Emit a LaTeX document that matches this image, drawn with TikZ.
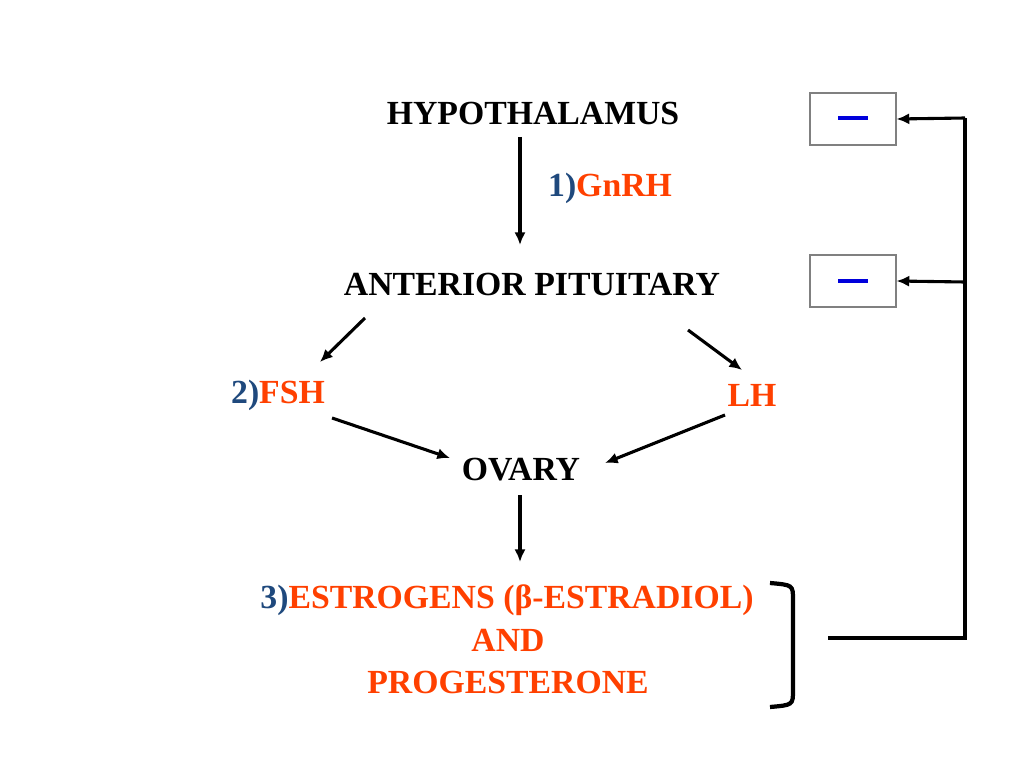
\documentclass[tikz,border=0pt]{standalone}
\usepackage{fontspec}
\setmainfont{Liberation Serif}
\usetikzlibrary{arrows.meta}
\definecolor{hred}{RGB}{255,64,0}
\definecolor{hblue}{RGB}{31,73,125}
\definecolor{mblue}{RGB}{0,0,220}
\begin{document}
\begin{tikzpicture}[x=0.025cm,y=-0.025cm,line width=2.2pt]
\tikzstyle{every node} = [font=\fontsize{24}{28}\selectfont\bfseries, inner sep=0pt]
\tikzstyle{arr} = [-{Latex[length=9pt,width=8pt]}]
\tikzstyle{minusbox} = [draw=gray, line width=0.8pt, minimum width=2.15cm, minimum height=1.3cm]
\useasboundingbox (0,0) rectangle (1024,768);
\node (hyp) at (533,113) {HYPOTHALAMUS};
\node (gnrh) at (610,188) {\textcolor{hblue}{1)}\textcolor{hred}{GnRH}};
\node (ant) at (532,284) {ANTERIOR PITUITARY};
\node (fsh) at (278,395) {\textcolor{hblue}{2)}\textcolor{hred}{FSH}};
\node (lh) at (752,395) {\textcolor{hred}{LH}};
\node (ova) at (521,470) {OVARY};
\node (est) at (507,600) {\textcolor{hblue}{3)}\textcolor{hred}{ESTROGENS (β-ESTRADIOL)}};
\node (and) at (508,640) {\textcolor{hred}{AND}};
\node (pro) at (508,682) {\textcolor{hred}{PROGESTERONE}};
\node[minusbox] (b1) at (853,119) {};
\node[minusbox] (b2) at (853,281) {};
\draw[mblue, line width=2.5pt] (838,118) -- (868,118);
\draw[mblue, line width=2.5pt] (838,281) -- (868,281);

\draw[arr] (520,137) -- (520,245);
\draw[arr] (365,318) -- (320,362);
\draw[arr] (688,330) -- (742,370);
\draw[arr] (332,418) -- (450,458);
\draw[arr] (725,415) -- (605,463);
\draw[arr] (520,495) -- (520,562);

% feedback
\draw[line width=3pt] (770,583) .. controls (793,585) .. (793,600) -- (793,690) .. controls (793,705) .. (770,707);
\coordinate (fb) at (965,638);
\draw[line width=3pt] (828,638) -- (fb) -- (965,118);
\draw[arr] (965,118) -- (b1.east);
\draw[arr] (965,282) -- (b2.east);
\end{tikzpicture}
\end{document}
